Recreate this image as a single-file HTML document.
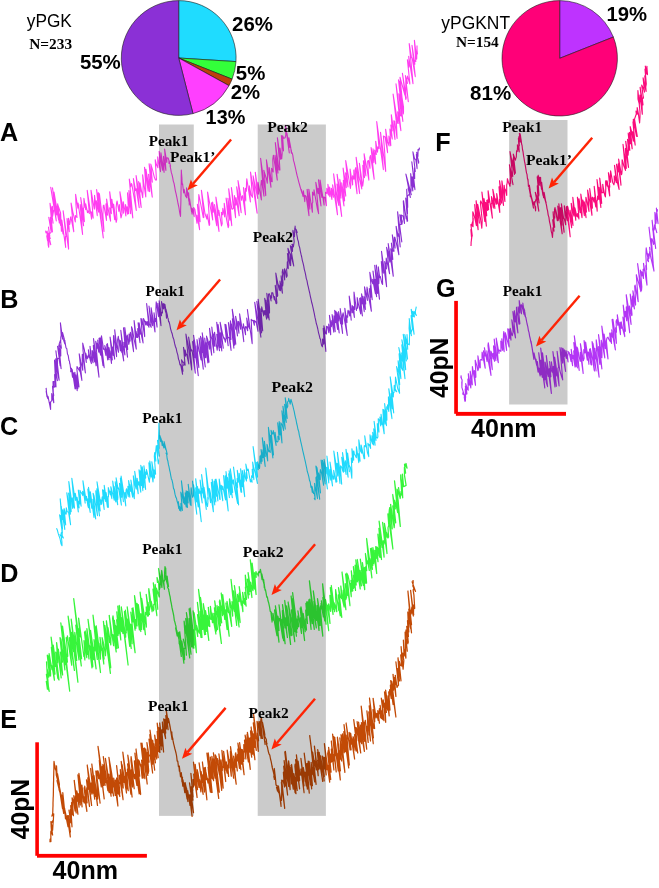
<!DOCTYPE html>
<html lang="en"><head><meta charset="utf-8"><title>Force-extension traces of yPGK and yPGKNT</title>
<style>
html,body{margin:0;padding:0;background:#fff;}
body{width:659px;height:888px;overflow:hidden;font-family:"Liberation Sans",sans-serif;}
svg{display:block;}
text{white-space:pre;}
</style></head><body>
<svg width="659" height="888" viewBox="0 0 659 888">
<rect x="0" y="0" width="659" height="888" fill="#ffffff"/>
<path d="M178.70,58.00 L178.70,0.60 A57.40,57.40 0 0 1 235.99,61.60 Z" fill="#1FDCFF" stroke="#1a1a1a" stroke-width="0.6" stroke-linejoin="round"/>
<path d="M178.70,58.00 L235.99,61.60 A57.40,57.40 0 0 1 232.07,79.13 Z" fill="#33FF3A" stroke="#1a1a1a" stroke-width="0.6" stroke-linejoin="round"/>
<path d="M178.70,58.00 L232.07,79.13 A57.40,57.40 0 0 1 229.00,85.65 Z" fill="#BE3F0C" stroke="#1a1a1a" stroke-width="0.6" stroke-linejoin="round"/>
<path d="M178.70,58.00 L229.00,85.65 A57.40,57.40 0 0 1 192.97,113.60 Z" fill="#FF3FFF" stroke="#1a1a1a" stroke-width="0.6" stroke-linejoin="round"/>
<path d="M178.70,58.00 L192.97,113.60 A57.40,57.40 0 1 1 178.70,0.60 Z" fill="#8B30D6" stroke="#1a1a1a" stroke-width="0.6" stroke-linejoin="round"/>
<path d="M559.70,58.30 L559.70,0.60 A57.70,57.70 0 0 1 613.35,37.06 Z" fill="#BE33FF" stroke="#1a1a1a" stroke-width="0.6" stroke-linejoin="round"/>
<path d="M559.70,58.30 L613.35,37.06 A57.70,57.70 0 1 1 559.70,0.60 Z" fill="#FF0078" stroke="#1a1a1a" stroke-width="0.6" stroke-linejoin="round"/>
<polyline points="45.6,230.7 46.0,233.0 47.2,231.2 47.1,238.0 46.7,235.7 47.6,240.8 47.6,234.4 48.2,245.3 48.1,243.1 48.4,245.9 48.7,247.3 48.8,244.5 48.9,245.0 48.8,236.1 50.8,244.8 47.9,233.1 50.3,238.4 49.2,237.9 49.8,236.1 48.5,227.1 49.3,234.1 51.2,232.2 48.8,217.4 51.0,227.7 50.4,225.5 51.9,225.3 50.5,217.3 50.5,222.8 52.4,231.9 50.0,203.2 53.1,223.1 50.6,205.6 53.2,213.1 52.4,206.4 52.6,216.5 53.6,210.7 54.4,209.9 50.7,187.2 56.3,221.0 52.5,187.8 53.2,192.8 56.6,214.9 54.0,192.1 58.7,220.1 55.0,200.7 58.7,216.6 57.5,206.9 57.7,203.8 59.3,222.9 58.3,212.9 60.6,225.5 57.6,204.3 60.6,213.0 61.4,231.3 61.9,228.3 60.1,213.9 63.0,233.9 61.8,220.1 65.7,247.4 65.3,242.5 65.5,236.2 66.0,236.4 63.1,210.7 68.6,249.1 68.2,238.4 67.0,218.5 69.3,231.8 68.4,218.2 69.7,224.4 70.1,222.3 70.5,217.5 70.9,216.8 73.8,231.8 71.1,203.1 72.9,212.3 75.3,221.9 75.4,215.6 77.0,217.5 76.0,205.0 75.6,194.3 77.9,208.1 78.1,203.0 82.6,234.5 80.2,204.6 83.6,225.8 80.7,197.5 84.4,221.7 83.4,208.1 84.0,207.6 83.9,198.4 85.7,209.7 85.7,203.9 87.5,212.6 87.9,210.8 89.4,213.6 87.2,190.3 91.6,219.1 91.7,211.7 93.2,218.2 91.0,190.2 94.3,209.2 94.6,208.2 94.5,195.4 97.3,215.7 96.3,200.9 98.7,212.1 96.6,189.5 103.3,237.9 98.2,192.7 99.4,193.9 104.0,231.5 102.9,214.8 103.3,205.7 103.9,205.2 106.5,220.4 106.0,203.9 107.5,215.2 106.6,199.1 109.3,215.9 110.6,221.2 109.7,207.9 111.4,213.6 109.7,191.9 112.0,207.8 111.8,199.2 114.7,219.7 113.6,204.1 116.2,222.3 116.9,218.9 116.1,207.9 116.6,203.0 117.1,201.0 118.9,211.5 119.3,204.6 121.0,217.9 122.0,213.9 119.9,191.9 121.8,202.4 123.4,213.2 123.2,201.7 125.9,216.0 125.5,204.6 127.6,214.2 127.1,206.7 128.7,213.8 127.5,192.9 130.6,213.7 128.9,190.6 132.8,217.9 129.3,179.1 130.7,186.8 131.4,183.5 131.9,184.6 136.3,210.5 133.4,178.6 135.6,190.6 136.2,188.7 139.2,207.6 136.1,175.6 141.2,207.4 138.6,181.5 140.3,192.2 140.0,182.8 142.7,197.6 143.0,191.3 143.2,184.9 142.6,174.8 145.8,197.0 145.6,182.8 144.5,167.2 148.2,191.1 145.9,169.2 149.6,191.6 148.6,174.4 152.3,197.2 149.1,163.9 152.3,182.1 150.8,164.1 152.4,169.4 154.3,177.1 155.5,180.0 156.5,180.0 155.2,159.7 156.4,164.6 157.9,167.7 157.7,156.8 160.5,171.6 159.1,151.2 162.5,170.3 160.9,152.9 164.1,172.4 163.5,156.2 165.9,170.5 164.6,149.0 166.8,162.4 166.9,157.9 168.1,158.0 168.9,160.4 169.0,163.4 169.0,160.5 170.6,166.1 170.0,165.7 170.7,168.8 171.3,172.4 172.0,174.6 172.7,177.6 173.3,181.1 174.0,183.2 174.7,186.9 175.3,190.6 176.0,193.4 176.7,196.7 177.3,199.7 178.0,203.5 178.5,205.6 179.0,208.0 179.5,211.5 180.0,214.2 180.5,216.4 180.6,213.8 180.6,211.0 180.7,207.1 180.8,204.4 180.9,201.0 180.9,197.6 181.0,195.4 181.0,191.7 181.1,189.4 181.1,186.4 181.2,182.4 181.2,179.1 181.2,176.0 181.3,173.0 181.3,170.0 181.4,171.2 181.5,173.2 181.7,175.2 181.8,176.8 181.9,177.9 182.0,179.8 181.9,179.9 182.3,184.5 182.7,184.0 182.7,184.9 183.7,193.0 184.1,189.3 185.5,195.9 186.8,197.8 186.5,187.8 187.3,195.1 186.9,188.9 188.1,195.2 188.9,201.4 188.6,192.8 189.2,200.9 189.2,204.9 189.5,198.7 191.6,211.9 191.7,208.6 190.9,207.5 191.5,209.5 192.1,214.2 192.4,208.5 194.3,216.7 193.7,207.5 194.9,209.3 197.0,223.3 197.0,215.0 199.6,229.6 197.4,204.3 200.1,221.6 198.7,203.0 198.8,194.5 201.1,206.0 203.3,217.6 203.9,217.3 201.4,190.2 205.0,213.8 206.9,219.1 207.1,214.1 209.2,225.4 209.7,224.3 209.1,215.0 207.6,192.1 210.7,209.0 212.7,219.9 211.5,202.9 213.1,212.3 212.6,202.0 216.7,225.7 214.5,204.5 219.0,231.4 215.9,197.1 218.9,215.5 218.8,210.2 221.5,225.9 222.2,223.7 221.4,212.4 222.6,214.8 222.8,208.4 224.7,216.9 224.2,203.2 226.6,219.6 228.2,227.6 228.8,225.5 226.1,198.1 229.9,220.3 227.9,198.2 231.8,225.7 228.7,188.9 231.8,208.9 232.4,209.2 233.4,208.2 231.4,187.6 235.6,217.7 234.4,195.5 236.0,205.1 236.0,197.6 239.2,215.8 236.7,186.9 237.9,193.3 241.2,212.6 238.0,180.5 241.6,200.3 241.9,196.7 242.6,195.7 245.5,214.8 243.5,187.5 245.8,200.9 245.4,188.2 246.4,191.2 246.5,183.1 246.8,178.8 250.4,202.0 249.3,185.8 251.2,195.3 252.5,197.3 250.5,172.1 253.0,186.1 257.1,213.1 253.1,175.8 255.7,188.4 257.7,198.5 255.3,172.4 258.4,194.1 258.0,182.4 261.4,200.0 261.0,190.7 260.9,185.3 261.4,180.4 264.0,196.1 260.6,158.3 265.8,195.7 264.8,179.0 263.8,170.4 266.4,178.7 267.3,183.3 267.5,174.5 266.4,159.8 271.0,187.3 269.2,167.6 271.4,181.4 272.2,181.8 271.6,168.3 273.2,172.0 272.8,159.4 273.4,155.2 277.3,180.2 275.0,155.3 278.0,173.2 275.3,142.5 279.0,169.9 279.9,169.9 279.3,159.5 277.4,137.9 280.6,159.3 280.0,148.0 281.7,159.0 282.2,153.3 281.9,144.1 281.4,135.5 283.5,150.9 282.6,135.8 283.6,138.3 284.0,138.2 285.1,137.8 285.8,134.8 285.5,125.4 289.3,153.0 286.9,133.0 288.1,140.1 289.9,147.5 288.9,137.9 290.7,147.4 291.4,153.2 291.2,149.7 291.6,152.4 292.0,152.7 292.8,155.2 293.5,160.4 294.2,162.7 295.0,166.2 295.8,169.7 296.5,173.0 297.2,175.9 298.0,178.9 298.8,182.1 299.5,184.5 300.2,187.1 301.0,189.8 302.1,193.4 301.4,189.5 302.8,195.5 303.0,196.4 303.4,190.8 304.8,201.6 305.0,195.4 305.8,196.0 306.1,196.2 309.0,215.6 307.8,199.1 307.1,189.4 309.9,209.2 308.8,189.2 312.4,212.3 312.2,203.5 312.8,202.1 312.5,192.1 313.9,195.3 314.0,189.8 317.4,208.8 318.6,213.6 315.8,182.3 318.1,193.4 318.2,188.4 321.0,206.0 318.5,179.9 321.9,197.4 320.1,180.1 324.1,205.2 323.8,197.0 325.0,197.6 326.5,205.8 325.6,192.2 326.8,193.4 326.8,188.3 328.4,195.1 327.9,184.3 329.9,196.8 329.6,187.1 331.9,199.5 331.4,188.2 333.4,197.3 332.6,184.8 335.0,198.5 337.5,214.8 333.6,173.8 337.5,200.0 338.8,205.4 337.0,184.0 341.7,216.4 337.1,174.4 341.0,198.2 339.8,179.3 344.0,205.9 341.7,182.8 344.6,201.0 343.3,180.3 345.8,196.2 343.1,168.1 346.3,187.8 345.6,172.8 348.0,186.9 345.7,160.6 347.4,170.1 350.4,188.5 350.8,185.2 350.1,169.0 352.6,185.0 352.6,175.7 353.9,179.3 353.8,170.1 357.1,193.8 355.1,169.5 355.8,167.6 359.6,193.4 356.1,157.2 359.3,178.2 361.8,189.0 359.4,163.2 362.7,186.1 363.4,180.8 362.8,165.4 364.5,177.6 363.4,160.7 365.9,176.0 364.1,153.9 366.4,166.0 368.9,180.2 367.6,161.2 368.5,160.5 370.0,168.4 369.8,157.4 370.5,155.5 374.2,179.3 371.1,147.6 373.9,162.7 373.0,148.8 375.7,164.0 374.7,150.1 376.3,154.5 375.7,141.4 377.5,152.2 377.9,146.9 379.1,148.6 376.7,121.5 383.4,169.7 382.0,151.4 380.5,132.3 385.7,171.4 384.6,150.9 383.4,136.0 385.1,136.9 387.6,152.7 385.6,129.2 387.6,141.9 389.1,145.9 388.9,136.0 390.8,145.8 389.9,129.0 392.3,139.0 390.8,125.0 392.2,130.9 391.3,114.7 395.0,139.5 393.8,120.7 394.7,121.4 397.1,138.5 396.4,122.4 393.1,94.1 397.7,123.2 398.2,123.5 397.7,111.7 400.9,130.6 396.0,83.8 400.3,115.7 401.5,116.1 398.8,93.9 402.9,121.5 398.5,79.8 403.4,114.0 399.5,81.3 403.5,107.0 403.5,112.5 400.0,77.2 404.9,95.1 403.9,85.6 406.3,98.3 402.4,73.2 405.8,99.4 405.8,79.0 408.3,101.7 405.4,75.6 407.4,83.4 406.9,80.0 407.5,76.1 408.6,79.9 409.9,84.0 407.4,59.7 408.9,67.1 409.3,64.7 408.7,56.3 413.0,83.6 412.4,76.4 409.2,43.6 411.3,56.4 412.3,58.9 415.3,76.7 412.0,45.3 414.9,64.3 413.9,60.0 415.8,61.7 414.4,40.4 416.7,59.1 416.9,48.9 417.4,53.9 417.0,50.6 417.0,45.6" fill="none" stroke="#FF3DF0" stroke-width="1.1" stroke-linejoin="round"/>
<polyline points="46.1,387.9 47.0,397.0 46.2,391.3 47.8,398.6 48.5,398.4 48.0,396.3 49.4,403.5 49.4,402.5 49.3,402.8 49.8,405.1 50.6,409.4 50.6,402.2 50.1,402.7 50.0,402.8 50.3,402.4 51.8,400.5 51.7,393.5 52.9,399.9 52.5,398.0 53.8,402.8 52.5,386.2 53.7,395.3 53.4,396.5 53.0,381.5 54.6,382.1 53.7,381.6 54.0,387.3 55.2,386.5 54.6,374.6 56.0,386.9 55.3,371.9 57.4,380.6 54.5,360.0 55.4,378.8 56.3,370.6 55.7,358.9 57.0,370.3 59.2,380.3 55.9,350.9 57.5,364.5 57.5,358.3 59.1,358.8 60.2,365.8 57.6,346.4 59.2,354.8 61.1,368.6 58.8,345.0 60.8,356.0 60.7,347.8 59.2,343.9 60.4,340.3 61.4,348.3 60.7,342.4 60.8,337.4 61.2,335.3 60.4,322.7 62.6,339.1 62.5,332.5 64.4,339.5 63.7,338.7 64.8,343.9 63.5,339.8 65.4,344.2 64.7,340.2 66.0,347.9 66.8,348.7 67.5,354.1 68.2,355.4 69.0,360.6 69.4,360.9 69.8,363.8 70.1,364.5 70.6,368.7 70.8,368.0 70.7,371.8 71.5,368.2 72.2,375.1 72.6,377.3 72.2,369.6 75.1,389.0 73.6,372.8 75.7,388.8 74.8,372.4 77.2,390.8 75.8,375.0 77.9,388.7 77.0,373.7 77.7,384.3 79.0,386.9 76.9,369.5 77.0,366.6 80.1,371.8 79.5,367.3 79.4,367.4 81.9,380.4 79.2,353.8 80.7,361.4 82.8,370.3 82.2,358.8 82.3,354.2 85.4,372.9 83.0,350.1 82.7,343.1 84.4,350.0 86.3,362.4 85.7,353.1 87.3,358.8 87.6,356.9 88.5,354.8 89.0,357.8 88.4,349.9 90.3,360.3 91.4,363.6 90.0,346.4 91.6,358.0 93.1,362.8 92.1,350.5 92.5,351.1 94.7,361.9 93.3,345.6 96.1,365.8 93.5,338.5 99.0,377.1 96.9,355.3 95.7,341.2 96.9,348.5 96.9,343.1 98.8,352.2 97.7,340.0 99.5,351.3 100.8,355.3 99.0,338.2 103.0,365.6 99.9,337.7 104.2,367.7 101.0,339.3 101.5,335.9 103.5,349.3 104.5,349.0 105.9,355.4 104.8,345.6 106.6,351.7 107.7,360.0 106.7,344.4 109.0,359.6 107.4,343.5 109.6,357.4 109.0,347.5 111.5,363.4 110.9,350.8 112.3,359.9 110.1,337.1 113.1,355.4 112.6,347.0 114.7,359.2 113.5,346.4 113.5,336.3 113.7,335.5 116.6,356.6 116.4,350.4 114.7,329.9 116.5,344.3 118.5,352.3 117.6,339.9 118.3,336.3 120.4,351.0 119.1,339.5 121.9,352.7 120.3,340.6 123.7,360.9 120.8,330.2 122.8,345.4 124.9,354.9 123.8,342.4 125.2,347.1 123.5,327.9 127.5,357.1 124.8,327.6 127.7,349.5 126.8,337.9 127.3,335.0 128.8,344.5 129.2,342.3 129.0,334.1 130.1,341.1 129.9,335.0 130.4,332.3 130.7,333.7 133.6,351.7 131.5,326.7 132.4,329.2 133.9,338.5 136.3,349.2 135.6,340.4 134.1,320.6 136.3,337.4 136.0,331.4 137.5,337.5 137.9,336.2 137.7,328.6 140.0,342.6 138.1,322.9 140.1,334.1 139.1,322.8 141.8,337.2 143.1,343.0 140.9,318.6 142.4,324.4 141.9,318.7 144.7,336.6 144.4,329.1 143.5,318.5 145.2,322.3 145.7,324.9 145.8,321.3 147.2,325.3 147.3,321.5 147.8,324.6 149.0,327.2 146.6,303.5 149.4,323.7 150.2,325.5 151.2,327.3 149.0,306.0 151.2,320.2 152.6,325.6 151.1,307.7 152.6,316.7 155.0,331.9 154.0,312.7 155.4,321.5 155.7,318.6 157.1,327.1 155.9,309.2 156.2,301.9 158.5,316.7 157.8,303.4 161.0,325.6 159.1,300.7 161.5,315.8 161.5,312.4 162.5,312.9 161.5,301.6 163.4,308.9 163.1,303.9 164.0,307.9 163.9,303.5 165.6,312.1 164.9,304.3 165.8,309.7 166.5,318.1 165.9,309.2 167.3,314.9 167.7,317.7 168.1,318.3 168.6,321.8 169.0,321.5 169.8,324.7 170.6,328.8 171.4,331.7 172.2,333.8 173.0,337.5 173.8,339.4 174.6,343.4 175.4,346.5 176.2,348.5 177.0,352.3 177.8,354.8 178.5,359.2 179.2,360.8 180.0,365.0 180.5,364.4 180.9,366.0 182.6,374.3 181.7,365.7 182.6,369.6 183.0,371.1 181.5,359.8 182.9,362.3 184.0,362.3 183.7,365.7 184.4,362.0 185.1,365.1 183.5,347.3 185.5,356.2 185.1,350.0 186.3,354.8 186.7,354.4 188.8,364.0 185.9,334.0 188.2,345.4 191.7,369.9 191.4,362.1 188.6,337.0 191.1,350.9 191.6,349.8 192.1,350.4 195.3,373.1 193.5,350.7 192.6,341.5 195.1,357.6 193.6,340.1 198.3,375.6 193.6,335.4 197.7,360.9 198.9,367.7 196.9,345.9 197.7,351.4 197.0,339.6 199.0,350.5 201.1,360.0 199.1,338.1 203.3,369.1 201.0,347.1 202.0,352.6 200.5,336.2 205.3,367.0 202.1,337.9 205.0,357.8 202.2,332.8 205.9,357.7 204.7,338.0 207.9,363.0 206.1,342.7 209.0,362.3 206.5,336.1 207.6,339.2 209.4,349.2 209.3,342.7 209.4,341.0 211.7,355.1 209.5,328.3 210.5,334.5 211.9,339.3 213.9,352.8 211.8,327.0 214.0,345.8 215.1,346.2 213.7,334.7 214.6,332.2 214.9,334.8 217.2,350.3 217.7,344.7 216.8,334.3 219.5,350.8 216.7,322.2 220.3,347.6 218.1,324.6 221.8,351.0 220.3,332.7 221.1,334.0 223.3,348.3 220.1,322.2 222.8,335.0 224.0,338.9 224.3,337.9 225.4,342.1 225.7,338.9 226.2,338.4 224.9,324.2 228.2,345.8 225.9,324.5 227.9,337.6 229.1,337.6 231.1,350.4 228.4,322.5 231.0,339.4 230.4,331.3 230.3,324.5 230.5,320.9 233.9,348.2 231.5,324.1 234.7,345.1 232.4,318.9 235.8,344.3 232.2,309.2 235.8,329.3 236.3,327.8 237.5,336.0 235.6,316.4 237.5,324.9 239.0,333.3 238.1,321.4 238.8,321.7 240.0,326.5 240.7,329.3 239.6,313.8 241.8,326.8 243.8,341.7 242.4,327.1 243.4,327.9 243.3,323.7 245.6,334.8 245.2,328.7 245.6,326.6 246.1,326.6 247.7,330.8 246.7,318.0 247.9,323.9 248.4,326.6 249.8,329.1 247.4,309.6 252.2,343.7 251.7,329.8 251.6,329.0 251.2,319.3 251.7,320.6 252.2,320.4 252.9,320.2 254.4,325.3 254.1,320.3 255.2,321.8 255.5,321.2 256.3,322.8 258.0,331.3 254.7,302.3 258.0,320.0 260.9,337.1 256.8,301.3 259.1,313.6 261.6,332.9 258.1,299.2 262.7,331.0 260.9,308.9 261.6,311.4 261.7,306.9 263.7,315.9 263.9,310.6 265.0,314.5 265.0,310.6 266.6,319.2 264.7,298.2 267.8,317.9 266.0,300.1 269.2,320.0 266.8,293.2 269.5,312.9 269.5,307.7 268.4,294.2 269.4,293.7 271.1,301.0 270.7,295.7 271.7,297.9 271.7,292.9 272.2,292.8 272.8,292.9 274.4,300.0 274.6,296.5 276.1,303.7 276.9,303.1 275.2,285.2 277.2,296.5 277.7,295.4 275.8,273.1 277.5,281.8 279.3,290.3 278.9,285.1 280.5,290.8 280.0,281.0 282.4,293.1 281.1,275.8 282.7,286.0 283.0,282.7 282.2,272.0 282.8,269.4 284.7,280.0 284.5,268.8 285.3,270.7 286.5,277.3 287.2,275.8 286.6,269.5 287.2,267.7 287.3,261.9 288.3,268.7 287.7,254.9 287.4,253.6 290.2,265.7 287.9,248.2 290.6,255.3 290.7,265.5 290.4,253.7 293.8,266.0 290.3,245.7 291.6,247.6 291.4,246.3 292.5,251.4 292.6,244.2 291.9,244.5 293.4,246.9 294.2,241.6 292.8,231.3 294.1,240.3 292.9,230.4 294.5,236.8 294.8,227.9 295.2,227.0 295.1,226.1 295.2,228.3 297.2,232.5 296.0,229.3 296.2,232.4 296.5,232.4 296.8,234.8 297.0,235.7 297.7,239.6 298.3,241.2 299.0,245.6 299.7,247.6 300.3,251.1 301.0,254.2 301.7,257.0 302.3,260.3 303.0,262.8 303.7,265.8 304.3,269.3 305.0,271.9 305.7,275.2 306.3,278.6 307.0,280.6 307.7,284.6 308.3,286.9 309.0,290.1 309.7,293.0 310.3,296.1 311.0,299.1 311.7,302.5 312.3,304.5 313.0,307.7 313.7,310.9 314.3,313.7 315.0,317.4 315.7,320.3 316.3,323.5 317.0,325.6 317.8,329.0 318.5,332.6 319.2,335.1 320.0,338.6 320.5,339.2 320.9,342.1 321.6,345.4 322.4,346.8 322.5,345.3 322.9,343.2 322.7,343.7 322.5,339.0 323.8,344.1 323.7,336.0 324.2,341.9 323.2,328.4 325.9,351.5 323.9,325.9 325.8,333.8 326.5,334.0 326.5,326.2 327.4,326.7 328.8,332.7 328.7,324.0 329.1,325.9 330.7,334.8 330.5,327.0 329.4,315.3 331.4,326.6 331.7,321.8 331.9,320.2 333.8,332.1 332.1,314.6 333.9,324.1 335.2,331.6 334.0,315.9 335.5,322.8 334.7,310.4 337.6,329.4 335.9,311.2 339.2,333.0 337.1,312.5 338.7,321.0 338.6,311.5 340.6,323.7 340.3,318.0 342.6,333.4 340.2,308.5 342.6,324.1 342.5,314.9 342.6,314.8 343.1,312.9 344.1,317.9 347.3,335.5 345.7,321.8 344.8,308.2 347.0,322.6 346.8,315.7 347.7,317.2 347.8,311.5 348.1,310.2 349.7,315.9 349.6,311.8 350.2,310.3 351.2,320.1 349.2,296.1 352.0,313.0 352.6,312.1 352.3,305.6 354.4,317.5 353.7,306.5 354.8,309.4 354.1,298.8 354.0,292.0 356.5,310.4 356.5,308.0 357.5,308.3 357.2,297.6 358.5,304.6 359.5,308.7 360.7,314.0 359.7,298.4 362.4,315.9 360.5,297.9 362.0,303.9 361.6,293.8 364.3,311.7 362.9,296.2 365.4,309.5 364.5,296.9 365.7,303.9 364.5,286.8 365.9,293.3 367.4,300.4 366.9,290.4 367.0,287.1 369.0,298.8 371.4,311.3 369.3,288.5 370.9,297.1 370.3,285.8 372.2,299.6 369.8,272.3 371.6,280.9 372.8,283.7 372.7,279.4 375.4,293.7 373.0,271.1 376.6,296.6 375.2,279.3 377.5,293.4 374.7,265.3 379.5,299.3 376.3,265.0 378.9,283.6 379.0,276.0 378.3,266.7 379.7,277.6 380.3,276.4 381.9,283.3 382.6,284.4 382.5,277.3 381.3,261.5 383.4,273.2 381.5,251.3 386.6,286.6 385.7,273.6 384.7,261.6 386.4,268.9 386.2,261.4 386.2,258.0 389.6,273.8 386.6,247.3 388.0,252.3 389.9,262.2 388.2,243.5 393.3,276.3 390.7,248.8 392.8,259.5 391.4,243.1 392.9,251.2 394.0,251.3 392.3,234.8 395.1,248.1 394.4,237.6 394.8,237.1 396.2,242.3 398.9,254.8 396.1,226.4 398.2,236.3 398.7,233.6 400.2,246.9 397.6,211.9 401.8,241.9 399.6,224.7 401.2,224.4 399.8,214.7 402.3,221.3 402.0,224.2 401.2,215.1 403.2,216.2 403.0,216.0 404.5,223.5 403.3,201.1 403.5,200.7 406.2,218.9 406.6,216.4 407.1,221.4 407.6,220.9 405.7,198.1 407.5,213.8 406.7,189.4 407.7,207.2 407.5,196.1 409.6,193.9 408.1,188.0 410.4,197.5 405.9,174.1 411.3,194.7 409.9,189.9 411.0,191.3 411.1,189.7 410.7,173.6 412.8,191.0 412.1,176.9 413.4,187.1 412.8,177.4 415.0,189.7 411.8,161.8 413.7,175.8 414.5,173.8 414.7,178.4 414.5,167.7 415.3,171.5 412.9,151.8 414.6,159.0 415.8,159.3 417.1,168.7 416.4,154.2 417.6,157.7 418.7,161.7 418.6,163.2 416.7,152.4 417.9,156.5 418.1,149.3 419.1,150.0 419.5,147.6" fill="none" stroke="#8A2FD2" stroke-width="1.1" stroke-linejoin="round"/>
<polyline points="56.5,528.2 57.3,529.9 58.2,533.4 59.0,535.9 60.0,538.5 61.0,543.7 62.0,545.8 62.0,544.8 61.9,542.0 61.9,541.6 61.3,536.8 60.0,534.6 63.4,538.0 61.0,533.1 61.7,532.5 62.1,536.6 62.2,526.6 62.2,534.7 61.5,524.0 62.4,532.9 59.6,514.8 62.3,526.1 60.6,515.6 62.5,528.9 60.2,498.9 62.3,519.5 61.2,506.4 64.8,529.4 62.9,509.9 65.7,525.0 64.1,508.6 65.4,513.7 66.2,514.1 66.3,507.8 67.1,511.7 68.5,512.0 70.6,524.8 66.8,492.7 70.4,514.1 68.6,493.1 71.2,511.8 70.8,504.2 68.8,481.6 72.7,508.5 72.3,497.8 73.6,506.8 74.5,508.1 71.8,478.2 74.6,496.4 75.4,500.5 75.2,493.2 76.9,501.5 78.3,511.9 77.0,497.2 79.1,507.9 78.5,501.4 79.7,504.0 78.3,490.0 81.1,506.1 79.9,490.4 80.9,492.6 81.4,492.8 82.8,495.6 82.6,491.2 83.7,493.5 85.2,503.2 82.9,480.7 84.8,492.3 86.1,500.4 86.5,496.2 87.9,505.9 88.5,507.8 88.0,498.9 90.2,512.4 87.8,489.0 89.8,502.3 88.5,487.3 91.8,508.3 90.3,491.7 94.0,517.4 94.0,512.2 92.9,499.3 95.7,519.0 93.1,493.3 94.0,495.6 97.5,515.7 97.2,512.5 96.5,501.6 95.8,490.9 99.5,516.0 96.8,488.8 100.2,510.9 97.0,481.8 100.9,504.8 100.5,499.7 101.6,504.1 101.7,500.7 102.2,496.7 104.2,509.5 102.5,489.7 104.2,498.8 103.7,490.1 105.4,501.5 104.2,485.3 107.5,507.3 106.1,492.5 108.4,507.4 108.0,496.2 108.5,496.9 108.3,490.8 108.3,487.6 110.2,494.7 110.1,491.1 111.9,498.7 110.8,486.7 112.4,492.6 112.6,493.5 114.3,500.3 112.7,481.0 115.8,501.9 114.1,486.3 117.7,504.8 115.2,481.9 117.7,499.7 117.9,497.2 116.1,477.8 117.9,488.0 118.9,489.6 118.5,488.0 121.4,505.2 119.5,483.4 121.7,497.3 121.5,495.9 120.4,478.0 123.4,501.8 121.1,476.0 123.9,494.0 125.8,506.0 124.7,493.7 125.0,492.3 126.4,498.2 126.1,490.2 126.6,488.7 128.3,496.7 127.9,486.2 129.8,497.1 128.6,480.6 130.7,491.4 130.0,484.6 132.7,497.2 130.9,480.1 132.7,490.5 134.3,498.7 134.3,494.3 134.5,492.4 133.3,475.8 135.1,485.2 136.2,489.2 134.7,471.3 138.2,493.8 137.4,482.6 137.1,478.4 138.3,485.1 138.9,481.7 140.8,492.1 139.0,469.7 141.3,485.4 140.1,470.7 142.9,490.7 140.8,465.3 143.8,487.7 142.9,475.0 142.2,466.9 145.6,489.4 143.9,465.9 145.7,478.1 145.4,472.1 146.4,474.4 146.4,469.5 147.3,472.7 149.4,482.3 149.5,479.3 149.9,478.0 148.9,462.8 151.1,477.2 149.8,461.0 153.0,481.9 153.3,477.2 151.8,461.7 154.6,478.2 154.1,469.8 155.6,474.3 154.3,456.2 154.7,452.5 155.9,461.2 155.3,455.5 156.3,445.5 158.3,463.9 158.6,460.9 157.7,458.0 157.5,445.3 158.0,447.9 159.2,456.1 157.5,440.4 159.0,448.7 158.7,438.0 158.5,440.4 158.5,437.7 158.6,435.5 158.7,433.1 158.8,429.3 158.8,426.5 158.9,423.0 159.0,426.0 159.1,428.5 159.2,431.0 159.3,434.8 159.4,436.4 160.7,441.7 159.7,435.3 161.2,439.2 161.5,440.4 162.2,445.6 162.2,440.9 163.9,448.0 164.2,443.0 164.6,445.8 165.8,449.7 164.1,441.6 167.3,454.3 166.0,453.2 166.6,453.9 167.2,459.0 167.8,460.7 168.4,464.4 169.0,466.6 169.6,470.0 170.2,472.3 170.8,475.8 171.4,478.9 172.0,480.1 172.8,483.6 173.5,488.4 174.2,489.6 175.0,494.2 175.8,497.1 176.5,498.3 177.2,501.7 178.0,504.2 178.8,508.7 178.3,501.6 179.7,510.5 179.5,506.4 180.9,511.2 180.9,503.4 181.3,505.3 182.4,510.4 180.8,492.1 182.1,495.7 183.5,502.8 181.4,480.7 184.5,504.2 184.1,496.7 186.3,507.2 185.2,492.9 187.5,507.4 186.1,490.7 188.1,502.9 187.4,491.4 188.0,491.9 190.4,504.8 188.2,484.4 191.1,505.6 190.9,496.4 190.9,495.4 191.1,487.7 192.6,497.3 193.0,496.3 193.6,495.7 192.5,481.0 196.8,514.3 193.5,484.7 196.6,502.0 195.7,487.8 198.2,506.9 195.7,478.9 201.3,521.7 197.5,486.5 198.4,494.0 199.0,488.7 199.7,493.4 200.2,491.0 202.2,503.0 200.1,480.0 202.1,493.0 202.3,488.4 203.8,497.9 201.6,474.6 206.3,509.4 204.0,487.3 206.7,504.0 207.5,506.5 207.9,502.7 207.8,497.3 208.3,499.1 205.7,468.0 207.9,485.6 210.6,502.6 209.4,488.6 210.3,492.6 213.4,511.8 212.8,500.6 211.3,482.4 211.7,483.8 214.8,504.9 212.1,479.2 213.7,487.8 215.8,501.9 214.1,481.0 216.6,496.3 215.1,479.5 217.9,500.9 216.0,479.1 217.9,488.6 219.8,499.4 220.1,499.4 219.6,488.1 219.2,479.0 220.0,484.3 222.8,500.8 221.3,485.3 222.4,489.4 222.8,486.1 224.0,492.1 225.1,497.8 225.6,499.9 223.6,475.6 228.2,511.0 225.4,480.4 225.2,475.7 227.1,488.3 226.0,471.5 229.4,497.8 227.6,477.5 230.7,494.8 228.7,473.9 232.3,497.6 229.1,470.7 232.7,492.4 230.3,468.8 232.0,479.8 233.2,484.0 233.3,479.7 234.8,489.6 237.6,503.5 233.5,467.0 238.6,504.9 236.6,482.8 237.5,487.6 237.1,478.6 238.1,482.3 237.3,470.3 241.0,492.2 239.2,473.3 241.7,492.2 240.6,480.1 242.2,486.7 240.6,468.9 244.7,496.6 242.3,470.5 243.9,481.9 244.1,479.9 244.2,469.8 245.4,478.0 246.5,481.0 246.2,472.5 247.3,478.3 245.8,464.0 247.3,470.5 248.2,469.1 250.4,482.0 250.2,479.0 251.4,481.5 252.1,482.2 251.5,475.8 252.6,477.4 252.2,469.2 253.9,479.7 252.6,462.0 253.6,466.9 255.2,473.0 257.4,483.4 253.1,446.6 257.5,477.1 256.6,462.4 258.2,469.6 257.6,461.9 259.5,468.5 259.7,466.7 259.7,463.6 260.0,456.1 261.2,463.6 260.9,455.1 262.2,461.3 261.1,449.6 262.9,457.8 262.9,449.7 265.2,466.4 262.3,437.9 265.3,456.5 264.4,441.4 265.5,449.2 267.7,461.0 267.0,444.4 267.5,445.9 268.8,451.8 269.1,450.7 270.3,452.3 269.3,442.6 268.4,427.3 272.9,457.9 270.5,435.2 273.5,454.9 271.0,430.3 272.6,434.1 273.1,433.8 273.3,430.5 276.1,445.5 275.0,432.2 276.3,441.1 277.4,442.0 278.1,441.1 277.9,436.3 279.3,439.6 277.7,422.9 280.0,434.9 279.2,421.5 282.0,443.0 280.8,422.7 281.7,424.2 282.4,425.5 283.6,430.4 281.9,410.8 285.3,429.2 282.9,406.2 284.6,416.6 286.3,422.5 284.6,404.3 287.2,418.4 285.2,397.7 287.0,407.9 287.8,406.3 287.6,401.9 288.4,401.2 288.7,398.4 290.2,404.2 290.7,400.8 290.5,401.2 291.0,399.3 292.0,402.9 293.0,406.5 293.6,409.2 294.2,411.4 294.8,414.6 295.4,417.3 296.0,419.7 296.7,423.5 297.3,425.8 298.0,429.5 298.7,431.4 299.3,435.2 300.0,437.8 300.7,441.3 301.3,443.8 302.0,447.0 302.7,450.3 303.3,452.8 304.0,455.8 304.7,459.0 305.3,461.5 306.0,464.9 306.7,468.2 307.3,471.5 308.0,473.6 308.8,476.7 309.5,480.3 310.2,482.0 311.0,487.5 311.4,486.0 312.3,492.4 312.1,490.7 312.0,486.5 313.5,492.5 313.4,493.4 314.2,493.3 315.1,497.6 314.3,498.4 315.1,499.7 314.6,483.3 317.5,498.7 315.9,477.5 316.5,485.8 316.3,476.9 319.7,499.3 315.9,466.1 317.0,467.8 320.5,492.9 318.5,473.0 320.3,479.6 320.1,472.6 320.4,469.6 321.7,473.9 323.6,485.3 321.1,460.0 325.2,483.9 322.4,460.2 324.1,465.1 327.4,489.0 324.1,459.3 327.0,474.0 326.7,467.4 328.8,483.0 328.2,472.5 326.9,456.0 329.0,472.3 330.3,480.2 329.9,469.6 332.5,485.9 330.0,462.0 331.9,473.5 333.2,479.3 333.1,476.3 334.1,479.1 333.7,470.3 335.4,478.1 335.9,482.1 336.9,481.8 333.8,451.0 336.0,464.2 337.8,476.1 337.0,463.4 337.7,464.2 340.0,483.5 337.4,452.4 341.7,484.2 340.5,468.0 340.6,465.7 341.7,467.4 342.8,471.0 343.4,472.3 341.7,457.3 344.2,471.5 342.5,452.5 346.1,474.4 345.1,466.2 345.4,460.7 348.1,477.1 347.1,465.7 346.0,449.4 349.4,471.8 347.6,453.0 349.1,464.9 350.5,467.8 351.8,478.3 351.9,471.2 351.3,458.0 351.7,458.7 352.6,462.5 351.9,448.7 353.7,460.3 353.3,452.0 353.8,450.9 354.3,453.7 355.9,456.7 356.4,457.7 356.4,452.2 356.4,446.7 358.8,462.6 358.7,453.6 360.1,461.3 359.2,451.5 358.8,439.8 360.6,451.2 361.8,453.2 361.1,445.0 362.1,449.2 364.1,458.6 364.7,458.7 364.1,447.7 364.3,445.5 365.1,446.8 365.6,445.3 364.7,435.8 367.4,452.5 368.8,456.7 367.9,443.2 368.7,445.2 369.2,444.5 370.6,448.4 370.2,441.8 370.0,434.8 371.2,440.1 372.5,443.9 371.9,435.8 373.5,445.0 372.7,432.3 375.1,445.3 373.7,428.8 376.0,440.4 374.1,421.2 376.3,437.2 377.2,438.1 377.9,436.9 377.3,423.6 378.3,428.8 379.0,432.2 378.2,418.7 379.4,420.0 380.7,426.0 379.9,417.0 381.8,424.6 381.0,414.2 384.2,433.8 383.7,425.4 382.9,409.4 385.0,424.1 383.9,409.8 386.5,425.7 384.6,403.5 386.9,420.2 386.7,406.7 387.4,409.1 387.6,404.8 388.8,411.5 388.4,396.9 392.0,418.7 388.8,388.9 392.2,408.7 391.1,393.5 393.7,412.9 390.2,376.8 393.3,397.0 393.5,392.4 394.0,392.6 394.2,385.4 395.2,390.5 396.8,391.7 395.2,389.0 395.5,377.0 397.8,388.8 399.6,393.3 399.1,386.2 396.6,366.6 398.7,372.6 399.7,384.8 398.5,366.1 398.1,360.7 400.9,378.6 399.1,353.7 401.3,367.7 402.7,370.2 398.8,347.5 401.9,361.0 401.7,352.9 405.0,378.8 401.8,344.7 405.7,369.8 405.0,360.8 401.9,339.8 406.4,361.0 403.2,334.2 407.6,359.2 404.8,334.6 407.0,343.8 407.1,336.7 407.7,349.2 407.0,334.5 407.6,343.8 409.3,344.8 409.6,333.7 409.1,328.5 409.4,320.9 411.4,335.6 409.2,318.6 410.7,333.7 412.4,328.9 411.1,315.6 414.1,334.3 411.2,309.4 413.1,316.7 412.5,311.4 414.4,317.0 413.9,311.3 416.4,315.4 415.7,314.6 415.3,311.7 416.3,306.7" fill="none" stroke="#20DAFD" stroke-width="1.1" stroke-linejoin="round"/>
<polyline points="47.5,689.6 46.3,681.4 49.2,691.4 48.3,685.7 46.4,674.3 48.6,689.4 47.8,679.1 47.4,671.1 47.6,680.6 46.5,661.8 47.5,679.1 47.1,668.9 48.8,677.0 49.5,675.1 47.3,655.1 50.6,676.0 48.2,655.9 50.7,674.7 49.1,653.6 52.0,669.6 51.8,665.6 52.7,670.2 54.4,680.1 51.4,647.4 52.4,656.3 55.0,674.2 51.1,637.1 55.1,666.3 53.2,645.1 57.8,678.2 59.0,680.0 55.7,652.2 57.7,662.7 57.4,658.4 56.6,642.6 61.2,677.8 58.3,649.2 60.2,663.1 62.6,674.9 60.5,652.1 60.6,652.5 62.5,662.2 60.0,637.6 61.0,639.4 64.9,669.8 63.3,650.0 65.4,664.6 60.8,622.8 69.7,691.2 62.5,626.2 67.4,662.2 66.8,654.2 67.8,656.3 66.8,642.8 66.2,637.7 67.2,640.1 67.4,635.9 68.7,645.1 71.7,665.1 69.4,637.7 71.4,650.1 74.4,670.4 68.1,616.2 70.9,634.3 73.6,651.5 71.8,632.3 77.9,682.1 71.2,619.1 76.7,660.4 76.1,653.8 74.7,637.4 74.8,632.3 79.0,659.8 77.1,643.4 79.2,656.2 75.8,625.1 81.3,665.9 73.7,598.7 81.6,658.7 78.2,628.7 80.4,636.8 79.5,629.6 78.6,618.2 83.9,656.4 84.0,653.3 84.9,659.9 84.7,651.6 84.0,640.6 86.8,657.7 86.4,650.3 84.5,632.0 87.5,654.4 85.2,631.0 89.0,658.9 87.1,636.3 86.9,628.6 92.0,667.8 89.8,645.8 92.9,666.7 91.2,647.1 88.0,619.3 93.6,659.7 90.5,630.4 96.1,668.8 94.0,650.8 94.0,647.2 94.8,650.9 94.0,639.7 95.4,645.4 97.3,659.4 95.7,641.8 93.0,615.2 100.5,672.5 95.4,626.9 98.0,644.2 96.2,625.9 100.5,659.2 100.4,652.4 100.0,643.2 101.0,650.2 100.0,637.3 103.8,664.0 102.6,648.2 104.1,659.0 102.1,637.7 103.5,643.2 103.7,643.7 105.5,655.6 105.8,648.9 105.6,645.3 103.4,621.3 110.4,673.3 104.9,625.5 110.8,667.7 107.6,637.9 106.4,620.9 109.6,642.5 108.0,627.9 110.1,640.9 110.8,644.8 110.9,636.2 110.7,629.6 109.2,615.4 113.6,645.6 112.6,634.6 113.6,635.3 116.2,651.9 112.6,618.4 113.0,615.9 117.0,648.4 114.3,620.4 118.4,647.8 115.8,625.6 118.2,635.5 116.6,619.8 118.6,633.6 116.8,611.9 120.8,639.9 119.7,626.4 117.8,606.2 121.4,630.9 121.8,631.7 119.2,605.3 122.9,633.5 122.1,617.3 128.1,665.0 121.3,606.8 125.7,637.2 125.6,633.2 126.3,633.0 124.4,611.5 127.0,630.0 125.4,610.2 129.7,646.3 127.4,619.2 131.2,648.5 127.2,606.8 132.2,643.7 130.6,626.3 130.7,624.1 131.3,626.2 135.1,652.6 130.8,612.1 132.7,621.9 132.8,616.0 132.0,608.3 135.1,630.1 133.0,607.9 135.9,628.3 135.6,619.6 136.8,625.4 137.1,625.9 134.5,595.7 135.7,602.8 139.4,629.9 137.0,603.4 140.8,631.5 138.3,604.6 141.7,629.3 141.3,622.2 140.9,613.6 142.0,617.5 143.8,629.6 140.1,592.1 145.4,634.6 141.7,598.5 144.7,618.3 146.3,627.1 146.3,624.4 145.5,612.4 146.5,614.7 146.2,606.8 147.7,616.1 148.4,615.9 146.2,594.3 149.4,614.5 148.0,602.4 149.4,610.3 150.1,606.2 148.8,591.3 148.8,588.7 152.1,611.7 151.1,601.2 153.4,610.8 153.9,609.5 153.7,604.4 154.6,604.5 153.0,589.1 156.9,615.7 153.3,582.9 156.4,600.8 155.2,584.5 157.8,609.3 156.4,588.1 159.2,597.0 158.6,582.0 157.4,582.3 157.0,577.5 160.1,587.0 159.3,589.7 160.4,583.7 158.5,568.5 161.9,587.4 162.0,581.7 161.4,576.1 161.0,578.1 161.7,570.5 164.4,589.1 163.8,582.0 164.3,581.0 164.9,579.2 164.5,575.6 165.0,566.6 164.6,573.0 165.7,568.0 166.0,577.7 165.1,575.8 168.0,586.5 167.1,583.0 167.1,576.1 167.7,581.0 168.5,586.5 167.5,586.9 168.7,589.5 168.9,591.5 169.2,592.1 169.5,594.3 170.1,596.7 170.7,600.8 171.3,603.5 171.9,607.2 172.5,610.0 173.1,612.6 173.7,615.5 174.3,620.2 174.9,622.1 175.5,624.7 175.9,625.9 176.9,633.9 176.6,630.3 177.2,635.9 175.6,627.8 178.2,636.6 176.7,630.1 179.1,639.8 178.7,632.4 179.2,643.6 181.4,647.5 180.2,645.2 179.0,639.6 181.3,656.4 180.5,642.9 181.3,647.1 179.7,631.9 183.9,663.1 181.8,641.0 183.6,650.6 184.6,659.7 184.1,648.8 185.6,647.3 183.3,639.2 185.4,648.5 185.5,639.1 186.4,655.1 184.1,621.2 186.0,633.0 185.4,626.0 189.7,657.9 185.7,618.5 191.0,654.1 186.4,612.6 189.1,629.7 191.7,646.8 189.0,618.5 193.1,648.0 189.1,608.8 194.0,648.2 190.1,608.0 194.9,645.0 193.6,629.9 196.4,652.6 195.8,643.0 193.1,610.8 195.7,629.9 194.1,612.9 197.7,636.4 196.7,625.7 197.8,630.3 199.3,633.2 198.9,625.9 197.5,614.7 201.0,637.3 197.4,602.4 202.0,637.5 201.0,621.2 200.2,611.2 202.7,629.3 198.5,589.3 204.6,634.7 200.5,597.5 205.6,634.4 203.8,615.0 206.2,631.4 203.3,603.7 205.2,614.5 208.8,640.4 205.5,610.7 208.1,626.2 207.5,615.5 209.5,626.4 209.8,626.6 208.3,607.4 209.7,618.3 210.6,619.1 211.0,619.4 210.4,606.3 212.5,622.6 213.0,622.0 212.1,613.2 215.9,634.0 214.2,619.8 213.8,613.4 216.5,631.0 214.4,607.8 217.5,629.5 214.7,600.8 216.7,614.0 217.0,611.9 221.4,643.4 217.0,605.5 220.5,625.6 219.6,614.7 218.6,606.6 221.7,622.8 219.4,601.7 219.9,600.0 222.5,615.6 222.0,605.8 223.4,614.1 221.2,593.0 224.8,619.4 222.7,594.6 227.1,629.5 225.6,609.8 229.2,636.1 225.9,603.0 227.0,612.8 227.4,606.1 228.6,612.7 227.0,601.3 229.7,614.9 231.7,626.3 229.6,603.5 229.5,598.9 231.3,607.8 231.2,605.7 232.7,616.1 232.0,601.6 233.4,608.1 234.3,611.4 231.0,579.3 236.7,625.3 233.5,590.8 236.5,612.4 239.1,626.9 234.4,585.6 238.8,615.9 240.2,622.5 238.0,601.8 237.5,594.3 239.2,601.7 239.1,596.4 239.2,593.1 241.3,605.1 239.2,586.7 242.9,611.6 242.4,601.1 243.3,603.3 242.6,592.3 244.8,604.5 244.3,598.6 246.1,606.1 244.8,592.4 246.5,599.4 245.4,587.1 245.8,587.3 245.3,575.1 248.3,598.1 247.9,586.1 249.2,594.6 247.4,579.1 249.9,591.4 248.1,572.6 251.9,597.5 250.6,582.1 251.3,585.0 253.0,590.7 252.8,585.6 250.3,559.9 254.3,589.0 252.1,563.2 256.1,594.5 254.7,572.7 254.6,573.4 256.2,577.3 255.9,571.5 256.8,574.2 257.8,573.9 258.2,575.9 258.3,572.6 259.1,571.5 259.5,572.7 260.0,571.8 260.4,569.4 261.0,572.7 262.0,579.5 262.3,577.7 264.0,584.2 261.8,574.0 263.0,579.7 263.7,579.7 264.3,587.6 264.4,584.9 264.0,582.9 265.1,590.2 265.2,589.4 265.5,589.8 266.1,593.1 266.8,597.1 267.4,597.0 268.0,600.8 268.8,603.3 269.5,606.6 270.2,611.2 271.0,612.0 271.5,612.9 271.9,617.8 270.9,611.7 271.8,620.2 272.5,617.3 272.0,622.0 272.5,617.6 273.3,620.1 273.0,613.3 275.7,628.8 277.0,635.6 276.0,625.0 274.6,609.9 279.0,642.2 275.4,605.9 279.0,630.5 277.9,616.2 278.8,620.4 279.0,620.8 279.6,618.3 282.8,638.2 279.0,604.8 283.6,640.6 282.0,619.5 285.1,643.6 283.0,623.3 282.4,610.7 285.0,627.9 282.5,604.7 287.4,637.5 285.3,617.9 285.9,618.8 287.2,625.5 284.7,600.5 290.6,644.4 288.7,625.9 286.7,605.9 291.1,635.7 290.2,626.3 292.1,635.1 288.1,602.0 290.7,616.7 291.9,622.1 294.8,641.7 291.4,609.8 293.7,622.4 294.7,631.6 291.1,596.0 296.4,636.1 292.5,598.8 296.8,632.4 292.6,592.6 297.4,628.8 297.0,619.2 298.0,624.2 298.6,626.8 297.8,616.7 298.4,615.0 297.9,610.8 301.5,633.5 300.4,617.9 302.2,627.5 300.2,608.1 304.6,640.5 301.0,606.8 302.2,613.3 305.3,631.7 303.2,613.5 305.6,627.9 306.5,630.1 305.6,618.8 306.2,619.8 305.7,610.2 307.5,623.5 305.9,603.3 307.8,615.4 306.7,601.9 308.7,614.6 307.7,601.9 311.1,629.3 308.8,599.8 311.0,616.9 312.2,623.7 309.8,599.1 314.3,629.3 312.7,612.3 309.4,580.9 314.0,614.9 316.3,627.9 314.3,609.3 313.9,601.3 316.3,620.5 313.3,590.9 319.0,630.4 319.0,628.3 317.0,605.5 320.0,625.5 317.5,598.6 319.6,611.9 322.8,636.2 320.3,607.7 320.6,605.8 321.3,608.8 321.1,603.3 323.4,616.9 321.4,600.9 324.8,620.9 322.9,597.4 326.1,624.1 323.7,600.0 322.6,583.9 328.7,630.7 325.5,599.7 327.4,609.8 327.2,605.5 330.0,623.4 328.3,604.3 328.7,604.0 330.6,611.4 330.6,607.3 330.5,605.0 329.9,595.3 333.1,614.3 330.3,587.6 333.2,609.3 331.3,585.5 334.6,611.6 333.7,602.2 334.8,604.7 335.6,608.0 336.8,611.7 335.7,598.3 335.6,589.7 338.8,610.3 337.7,601.8 340.3,615.8 339.4,604.5 338.3,594.9 341.8,617.3 338.5,587.7 340.2,596.7 341.5,598.5 340.8,586.0 342.6,600.1 344.2,607.0 343.2,596.0 343.2,590.2 345.9,609.6 342.0,572.0 345.8,599.6 346.6,597.0 345.3,583.7 347.1,595.6 347.9,594.8 345.6,574.0 350.0,605.7 346.8,573.2 348.0,575.6 349.6,583.1 351.3,596.7 350.6,583.7 352.1,591.1 351.0,580.3 352.8,590.8 351.3,570.9 353.6,588.3 354.2,586.3 353.5,575.0 355.5,590.4 353.4,566.6 356.2,585.0 355.8,577.2 355.1,565.2 357.3,581.8 357.7,580.0 355.8,559.8 360.2,588.9 359.1,575.6 357.3,559.5 361.4,585.8 360.0,570.4 360.9,573.8 363.3,585.3 360.3,559.2 364.7,589.6 364.5,584.6 362.4,562.6 365.6,583.2 364.4,567.7 366.6,583.2 365.4,566.9 365.8,569.2 366.7,570.7 365.4,553.5 367.2,563.7 367.5,560.9 369.3,570.5 368.5,560.8 366.6,538.5 371.9,577.8 369.8,558.5 371.3,563.4 372.4,569.3 370.5,548.6 372.8,565.4 371.4,548.1 373.8,563.7 372.9,547.6 376.7,573.5 375.6,559.2 374.7,550.4 376.2,558.6 375.7,546.6 378.0,561.6 376.8,546.8 377.9,548.1 378.9,555.4 380.0,557.4 377.9,534.2 381.5,559.5 379.7,537.6 378.9,528.3 382.1,547.3 379.1,521.2 384.1,557.2 383.2,540.7 384.0,544.1 384.6,541.2 382.6,522.4 387.0,553.5 386.2,543.5 384.4,523.3 387.0,537.2 386.7,532.7 388.0,538.0 388.6,537.0 388.0,527.9 388.8,525.1 387.9,513.9 392.9,549.0 389.1,512.9 389.3,510.2 389.7,507.7 392.2,528.8 390.6,504.4 394.2,527.6 394.4,525.1 392.8,505.8 395.7,522.8 392.7,494.5 395.3,508.8 394.6,500.3 396.1,505.3 397.7,512.5 394.5,480.8 400.3,526.4 398.1,500.0 398.6,507.7 397.1,489.1 400.3,498.2 398.5,487.7 400.2,498.5 401.1,491.3 401.8,495.0 400.7,474.9 400.7,479.1 402.7,497.8 402.2,483.7 401.8,480.6 402.4,479.7 402.4,474.0 403.6,486.7 406.1,485.4 404.5,475.3 404.4,467.4 405.6,473.1 404.5,464.3 404.9,464.2 407.1,468.3 406.0,463.5 406.3,463.0" fill="none" stroke="#37F53B" stroke-width="1.25" stroke-linejoin="round"/>
<polyline points="50.0,842.3 50.1,839.1 50.9,840.5 50.9,841.5 50.8,831.7 51.8,829.4 52.6,835.0 51.1,825.9 51.7,833.8 50.9,821.7 52.6,830.2 53.2,821.3 51.7,822.5 51.5,822.4 53.1,820.4 53.2,822.3 53.7,813.8 51.9,816.1 52.7,813.3 52.8,811.8 52.9,808.1 53.0,806.0 53.0,803.0 53.1,800.4 53.2,797.2 53.3,796.3 53.4,791.1 53.4,789.2 53.5,786.3 53.5,783.4 53.6,780.9 53.6,777.7 53.7,775.8 53.8,771.3 53.9,768.4 53.9,765.1 54.0,761.4 54.3,763.3 54.6,765.2 54.9,765.5 55.3,769.3 55.2,767.7 57.0,775.1 56.5,765.9 57.2,778.6 56.3,775.2 56.1,770.4 58.4,786.2 57.0,780.6 59.1,789.0 59.4,784.1 57.5,773.9 59.1,789.8 60.4,793.7 62.3,801.0 58.3,781.6 61.0,796.9 59.6,789.8 62.5,808.3 60.8,797.2 62.6,800.7 62.3,805.2 63.7,813.4 61.9,795.2 63.6,808.3 64.2,811.8 62.8,792.7 64.8,812.8 64.6,808.2 65.5,818.8 64.5,808.4 67.6,822.7 65.8,815.7 68.0,826.6 67.0,816.9 67.4,815.7 68.2,822.6 70.3,836.9 68.5,815.6 70.4,831.9 68.6,817.9 70.9,822.9 69.0,810.1 71.0,822.4 70.5,809.3 72.0,826.8 70.7,805.5 72.2,814.7 71.5,802.5 73.4,815.6 72.1,797.9 72.9,799.8 73.5,801.3 75.1,811.0 73.8,795.7 76.2,812.9 75.3,802.7 75.4,795.9 77.9,814.1 74.2,780.4 77.0,801.5 76.8,790.9 79.1,807.2 77.7,793.2 79.2,802.2 78.8,793.9 80.3,805.0 80.1,797.9 77.9,774.8 82.1,806.8 80.7,790.1 78.9,773.3 83.2,801.6 82.8,797.5 81.9,785.2 84.2,803.0 84.4,796.9 86.9,811.3 84.1,787.8 85.7,799.5 84.7,786.2 87.1,802.8 86.2,790.5 86.6,790.4 86.8,787.7 89.5,806.5 86.5,779.9 88.1,786.7 88.8,789.4 87.8,777.9 91.6,805.4 87.2,765.0 90.5,786.5 91.6,792.9 92.0,794.2 91.0,783.0 93.2,793.1 90.6,768.5 94.7,799.1 92.6,776.1 95.1,796.5 91.8,764.0 97.5,805.4 94.0,775.6 95.5,785.6 97.7,799.0 97.8,793.7 95.8,771.0 100.1,803.2 96.3,771.5 97.1,770.9 98.7,778.7 97.9,770.8 99.0,773.9 100.7,783.0 101.3,786.9 101.1,782.2 99.3,760.3 104.2,798.8 98.0,746.4 103.7,784.8 103.7,785.3 102.3,766.4 105.1,785.3 102.8,764.5 103.3,766.8 105.8,782.5 103.9,765.1 107.9,790.6 103.3,756.6 106.5,779.7 107.2,782.1 108.7,791.1 109.3,792.7 105.4,758.3 107.5,771.7 108.6,781.0 111.1,796.1 108.9,774.1 110.7,788.5 109.9,777.3 112.0,792.9 109.2,759.6 113.5,795.9 108.9,757.3 111.6,773.2 113.5,786.9 113.7,783.6 115.3,795.4 113.7,778.2 115.5,789.6 117.9,806.0 116.6,790.0 115.4,780.1 117.5,793.6 116.5,780.1 116.7,778.0 118.9,794.7 118.1,785.1 119.8,796.5 116.6,765.6 119.8,793.0 119.1,784.2 119.9,781.8 119.3,775.1 123.1,799.7 120.9,779.4 120.3,769.5 123.2,788.0 122.8,779.9 121.2,761.3 124.2,782.4 122.1,764.7 126.5,793.0 124.8,776.3 126.9,788.8 122.8,752.2 128.2,790.6 127.0,775.8 126.8,772.6 127.7,774.8 127.4,769.2 130.9,794.1 127.6,763.8 132.1,797.0 127.8,755.2 128.9,761.9 130.3,772.7 132.5,787.0 131.7,776.0 131.2,769.9 134.2,788.6 131.0,760.7 131.1,756.6 133.6,774.4 134.5,778.6 134.2,774.3 135.0,774.7 136.9,785.4 135.0,769.2 134.4,760.9 137.6,782.7 139.2,793.8 134.9,753.2 139.8,791.2 140.7,794.5 136.0,749.0 139.0,773.2 139.7,776.1 138.4,759.9 139.2,761.0 140.5,766.0 140.7,764.3 142.2,778.1 143.3,778.0 141.6,760.2 142.2,762.5 144.9,778.7 140.9,743.2 144.2,764.9 142.0,743.2 147.2,784.0 143.5,748.5 147.8,775.4 144.6,748.0 148.4,773.2 145.8,749.0 148.7,771.3 147.3,752.6 149.1,762.2 146.9,742.7 149.1,756.0 149.2,755.0 150.2,755.6 152.6,773.0 149.0,739.1 152.6,764.1 149.8,734.7 150.4,737.1 154.7,770.2 150.0,730.1 154.2,759.6 152.7,740.2 155.4,762.8 153.9,743.9 155.8,755.0 156.8,759.0 154.7,735.1 158.2,757.6 157.2,749.9 156.6,739.4 158.7,751.7 157.9,743.5 157.2,731.3 159.9,752.4 157.2,723.2 161.3,749.6 158.9,727.6 161.8,745.8 159.7,723.0 163.6,752.0 161.8,730.3 162.1,729.6 163.0,732.6 162.4,722.0 163.6,729.8 165.6,738.5 163.7,718.8 165.7,733.2 164.8,719.4 166.5,728.9 165.7,719.1 166.6,724.7 165.8,715.6 168.1,729.6 166.2,709.8 168.2,722.7 168.6,721.5 168.4,718.3 169.1,721.4 169.9,726.3 171.2,733.1 168.6,719.2 170.1,726.6 172.1,739.3 171.8,732.0 171.8,733.3 172.1,735.6 172.4,737.6 172.7,738.1 173.0,740.4 173.6,743.6 174.2,745.8 174.8,748.5 175.4,750.7 176.0,753.0 176.6,756.0 177.2,761.1 177.8,761.2 178.4,766.5 179.0,767.0 179.4,771.1 179.3,766.0 180.5,776.8 180.6,775.4 182.5,777.5 182.0,781.8 181.3,772.7 182.8,786.1 182.6,781.8 182.7,779.4 183.1,784.6 183.0,780.2 184.8,792.6 184.6,788.6 185.3,792.4 184.4,783.2 187.1,798.8 185.1,782.7 186.2,787.7 187.9,801.5 186.5,788.0 188.3,797.5 187.7,790.9 188.5,795.6 190.0,805.4 189.4,794.8 192.1,816.4 190.1,795.0 191.9,803.3 191.4,801.4 193.5,812.7 189.5,782.8 191.5,795.8 192.9,800.2 191.2,786.8 193.0,796.9 190.9,773.4 192.7,790.8 192.5,787.7 193.6,786.6 193.0,779.5 193.6,782.3 194.6,785.1 193.7,774.0 197.1,797.5 193.5,762.2 195.7,778.6 197.5,789.6 195.2,764.3 197.0,781.1 196.7,772.5 199.0,787.4 197.2,769.6 198.1,773.5 200.9,791.8 199.8,779.9 200.9,783.9 203.2,794.3 199.1,762.8 202.0,782.4 201.1,771.5 202.9,780.4 204.5,792.0 203.1,774.7 205.4,789.9 202.4,762.0 206.9,799.8 204.2,769.3 204.2,767.9 206.3,779.7 205.2,767.4 205.9,771.9 208.0,783.0 207.7,778.5 208.8,782.5 210.4,792.2 208.1,767.0 211.6,792.4 206.9,753.2 212.1,792.5 208.2,752.8 211.6,778.2 211.1,770.4 212.5,778.8 210.4,757.1 213.6,780.7 212.3,765.5 212.5,763.9 211.9,756.3 215.0,778.1 213.3,759.0 218.7,798.4 213.4,752.9 214.3,759.2 217.0,777.0 219.3,792.1 215.2,754.8 216.1,756.6 217.4,763.7 219.4,774.4 217.6,758.7 221.7,790.3 221.4,780.4 219.2,760.2 221.1,774.6 218.9,753.8 223.2,788.2 221.0,759.8 222.3,770.5 222.3,766.3 223.2,767.4 221.9,750.4 225.7,781.5 224.5,766.2 225.1,770.6 223.6,751.3 226.0,767.9 227.1,773.1 227.0,769.2 226.3,761.8 228.6,776.4 227.8,765.1 228.8,767.9 227.2,750.2 229.1,760.8 229.3,759.6 231.3,776.2 231.0,765.1 230.6,763.2 230.4,751.3 233.6,778.2 231.1,754.0 230.5,746.7 236.2,784.1 235.4,777.0 233.8,758.4 233.6,756.1 235.3,763.9 236.0,767.4 235.3,753.9 237.3,770.9 235.7,752.9 237.1,760.8 237.9,760.9 237.5,754.5 239.5,768.3 237.8,749.0 240.9,769.6 237.9,743.2 240.4,757.5 240.7,758.8 241.6,764.2 239.6,742.6 244.1,774.6 241.5,749.3 243.6,761.3 242.3,749.7 244.1,758.9 243.1,751.6 243.9,752.0 243.8,744.6 244.3,747.5 245.9,759.0 244.5,740.0 244.8,741.3 248.4,761.8 245.1,735.1 246.3,741.0 250.3,769.3 247.1,737.8 247.1,734.0 249.8,752.2 247.4,732.4 249.2,743.1 251.7,757.1 249.6,738.2 250.2,737.8 252.4,754.1 250.5,730.9 253.9,755.1 251.1,727.0 254.9,759.7 252.0,731.1 254.9,747.4 253.4,733.8 256.3,750.3 253.3,722.9 255.6,738.6 253.5,713.3 258.3,751.4 258.0,741.1 257.5,733.0 258.5,740.8 257.0,721.4 258.3,724.5 259.9,735.5 258.9,721.5 261.1,738.5 259.7,721.8 262.4,738.4 260.7,722.5 260.7,721.3 261.3,717.3 265.1,744.5 262.4,725.2 262.8,724.9 264.0,731.9 264.3,732.7 262.5,722.3 264.3,731.4 264.8,734.7 264.7,736.2 266.4,739.8 266.6,743.4 267.0,743.8 266.0,741.1 266.8,745.2 267.5,747.3 268.2,751.0 269.0,753.9 269.8,755.1 270.5,759.0 271.2,761.6 272.0,766.2 272.4,766.1 272.0,766.7 273.3,771.6 274.1,775.1 273.8,777.0 275.5,778.9 274.3,768.5 274.3,779.3 275.0,774.3 275.4,777.7 276.0,784.9 278.6,787.1 277.5,791.0 276.5,787.2 278.9,793.0 277.3,790.2 278.1,786.0 281.0,804.4 280.2,796.9 278.4,786.1 281.1,806.3 280.3,800.5 280.7,798.2 281.5,800.4 281.7,794.5 281.7,780.0 284.7,808.3 281.4,782.3 282.1,791.0 282.0,780.5 283.0,780.4 284.1,784.7 284.4,787.0 283.4,772.2 285.0,786.1 285.6,784.9 283.7,766.2 287.6,795.0 284.1,760.5 286.4,775.5 286.6,775.5 288.7,786.5 284.8,752.0 285.4,751.5 290.1,789.6 289.9,782.1 290.1,784.8 288.4,765.3 288.6,760.8 291.6,783.8 289.8,767.4 293.3,789.1 291.0,765.4 292.8,778.3 291.6,764.5 295.1,792.7 296.0,793.7 293.9,773.6 296.3,788.6 295.2,777.8 297.2,790.4 294.9,766.3 295.1,764.2 297.0,779.4 297.9,781.1 295.6,759.7 299.6,788.8 298.4,777.8 296.4,754.9 299.6,780.7 298.1,761.2 300.0,775.0 300.0,774.6 301.0,775.2 300.9,769.0 304.1,792.7 303.2,785.0 304.0,785.8 300.9,758.4 304.0,781.7 303.5,773.7 303.3,767.5 304.7,775.0 306.3,785.9 305.2,772.2 307.4,789.1 306.8,775.5 304.2,753.2 309.3,793.2 306.9,765.9 306.7,763.6 308.5,775.0 307.7,763.2 310.4,784.9 308.2,761.1 311.7,788.8 309.1,761.4 312.4,785.6 311.5,773.8 311.7,772.8 311.1,762.4 312.9,774.6 312.2,767.3 314.7,781.9 311.3,748.8 309.7,735.7 316.1,784.3 312.6,752.2 314.9,765.5 314.4,760.5 316.3,769.9 315.6,757.5 314.4,746.2 318.2,775.6 317.6,766.9 318.5,769.7 317.6,760.0 318.5,763.8 317.4,752.4 319.8,768.8 317.7,749.6 322.7,781.4 319.1,752.4 322.4,771.8 320.6,755.9 324.2,780.9 322.7,767.2 324.3,776.5 322.4,756.2 324.3,768.9 323.9,758.0 323.9,757.1 326.2,774.9 324.9,757.5 326.9,769.6 324.4,743.7 325.4,751.6 329.7,782.2 329.1,770.2 328.6,765.1 330.7,779.4 327.7,753.6 328.4,750.2 331.1,772.2 328.6,747.4 331.0,762.5 330.9,756.2 331.0,754.0 332.2,761.3 331.3,749.0 333.9,770.0 331.3,741.0 333.8,760.9 333.7,754.7 334.3,756.3 336.2,771.9 332.6,734.2 335.8,755.6 333.8,736.7 338.3,770.9 334.7,737.4 340.3,779.9 338.6,759.8 338.1,753.0 340.4,770.8 337.8,745.2 337.4,737.2 340.4,759.1 339.7,750.7 341.5,760.9 340.2,743.7 341.5,752.1 339.8,737.8 344.9,772.3 342.6,749.6 341.0,734.7 342.3,737.8 344.3,752.7 342.5,733.8 344.5,746.4 345.4,751.7 344.9,744.5 343.8,731.7 348.7,767.9 344.0,724.6 349.3,765.0 348.3,753.6 346.8,735.2 347.3,736.3 348.0,738.8 346.1,723.0 350.1,749.8 349.4,740.6 351.1,749.8 349.2,732.3 351.5,744.1 350.6,733.2 354.6,759.0 352.1,738.8 354.1,750.1 353.0,736.9 354.0,744.7 353.3,737.0 355.1,746.9 356.1,751.2 354.6,734.7 357.7,752.9 353.7,719.7 356.7,740.8 355.7,727.5 356.8,732.6 356.5,728.0 358.1,737.5 360.7,752.9 357.1,721.7 360.3,742.0 359.9,734.3 358.6,722.1 361.6,743.6 360.9,737.1 360.6,725.0 362.0,737.3 364.4,751.3 361.4,722.6 362.9,730.9 364.8,741.3 362.8,723.5 361.2,706.2 366.7,749.1 364.5,725.9 364.5,722.1 364.9,723.0 365.3,720.3 368.2,742.4 367.0,726.4 368.0,730.5 367.5,719.8 369.1,735.0 366.9,710.9 370.5,741.0 369.4,727.0 369.5,723.0 368.8,711.9 373.3,743.7 369.2,705.9 373.4,737.8 369.5,698.0 372.6,722.6 372.9,723.6 373.8,728.3 374.6,728.5 373.0,709.7 374.7,721.7 374.7,715.6 373.1,698.4 376.1,717.8 376.2,717.3 376.6,715.9 376.7,713.3 378.2,720.3 377.8,710.6 379.4,723.1 378.1,712.5 379.1,713.7 379.4,708.7 380.4,717.2 381.5,718.6 380.1,705.3 381.8,715.5 382.8,719.7 382.2,710.6 384.0,720.7 381.3,698.1 383.4,707.2 383.2,699.8 385.7,722.3 385.2,708.6 384.8,703.0 386.4,712.4 384.5,691.8 386.7,707.2 388.0,710.5 385.6,690.1 389.2,715.8 388.5,704.7 388.0,695.8 390.0,710.2 388.7,691.9 389.2,696.4 389.7,689.6 390.4,693.5 391.2,698.5 390.4,685.2 393.1,704.5 390.7,680.6 395.9,717.0 391.7,681.2 393.6,690.1 393.6,680.4 393.0,674.4 395.9,696.4 394.4,677.4 395.9,684.7 395.3,675.4 397.0,687.4 398.5,684.7 395.9,661.8 398.5,685.2 397.7,668.7 399.4,680.9 398.0,657.9 401.0,680.8 399.0,661.3 399.2,661.3 400.5,665.4 402.4,666.3 401.6,664.6 400.7,654.9 402.5,666.1 401.1,646.6 403.1,669.1 403.8,660.6 402.8,653.1 404.1,656.0 403.4,640.1 404.1,648.6 404.4,649.7 405.1,654.0 405.9,658.1 405.1,632.0 407.3,651.2 406.0,639.4 407.4,642.4 408.0,643.8 405.9,630.0 408.3,642.3 406.7,626.3 408.4,636.5 407.5,620.7 408.8,631.9 408.1,619.4 407.8,612.0 410.2,627.1 411.0,629.3 408.8,609.1 411.5,632.8 407.9,591.0 411.5,624.6 409.8,608.6 411.2,614.0 411.9,607.0 411.6,609.2 413.4,616.0 410.6,590.4 413.7,614.7 413.5,613.1 413.7,605.0 414.7,608.5 413.9,594.8 413.2,590.5 413.3,590.2 413.3,589.4 414.0,588.5 412.7,585.8 415.5,591.4 412.1,581.8 413.2,583.3 413.1,581.0 413.0,580.0" fill="none" stroke="#C24A06" stroke-width="1.25" stroke-linejoin="round"/>
<polyline points="471.0,246.1 471.0,245.8 471.1,243.7 471.1,242.1 471.2,241.8 471.8,237.1 471.4,239.5 471.9,235.4 471.5,236.9 470.9,229.6 471.9,233.9 472.3,236.2 470.9,224.5 471.9,224.3 472.6,221.6 471.6,225.1 473.0,226.7 473.2,218.1 473.0,225.9 472.8,211.8 474.2,215.8 474.8,218.0 476.4,225.6 474.7,204.5 478.1,229.6 477.3,217.0 476.1,200.7 479.4,223.2 477.7,204.3 480.5,218.6 481.8,228.2 482.2,220.3 480.4,202.5 480.8,200.9 482.4,204.6 484.8,221.4 481.9,192.0 486.4,226.2 484.0,198.6 486.7,215.9 485.7,202.3 487.5,210.5 486.8,200.3 488.6,209.8 487.9,199.5 488.7,202.4 488.1,190.9 492.4,218.2 491.1,204.5 491.8,202.7 491.5,196.6 493.4,207.9 493.3,197.7 494.9,208.4 492.8,189.4 496.1,204.4 495.9,198.9 497.1,203.8 496.7,193.6 499.8,212.5 499.5,207.6 499.6,199.1 500.4,204.8 499.0,186.7 501.6,203.1 499.5,180.7 503.5,205.4 502.1,188.1 501.9,180.8 504.9,201.5 504.2,185.3 504.5,188.2 505.4,189.7 506.7,195.4 506.7,185.0 507.2,182.8 507.4,178.7 508.5,182.5 510.0,186.2 510.3,177.6 510.7,183.1 509.7,166.5 513.0,184.6 509.4,164.9 512.2,176.1 512.8,176.3 510.0,151.5 514.5,174.5 512.8,161.3 513.4,157.5 515.4,173.1 513.3,154.1 515.4,160.1 515.8,158.4 516.3,157.1 516.6,150.9 517.2,151.5 517.5,147.4 517.4,144.8 519.2,151.9 518.4,138.0 519.3,145.8 519.0,136.4 520.2,141.9 519.4,133.4 521.0,142.2 519.9,133.6 520.0,133.7 520.4,135.2 520.8,138.0 521.2,140.3 521.6,144.0 522.1,145.7 522.5,149.5 523.0,151.5 523.5,155.4 524.0,158.0 524.5,161.4 525.0,163.6 525.5,166.7 526.0,169.9 526.5,172.8 527.0,174.4 527.5,179.0 527.8,178.9 528.1,181.8 528.0,179.3 528.4,186.2 529.8,188.1 530.1,189.9 529.3,185.2 531.3,198.5 529.1,188.2 530.5,195.5 530.1,195.9 531.4,197.8 533.2,203.9 530.6,193.6 533.5,208.2 532.6,201.2 533.5,204.9 534.3,201.7 535.6,210.8 535.6,206.7 534.3,204.7 536.8,196.8 538.8,211.1 535.3,192.3 537.7,199.5 537.7,195.4 539.1,202.9 537.6,193.1 537.3,185.8 538.8,195.9 538.2,187.5 537.9,179.9 538.9,194.8 537.2,176.7 539.4,185.1 538.1,175.2 540.7,184.4 539.7,177.4 540.1,180.9 540.6,177.4 540.8,185.9 540.6,179.6 541.5,189.2 540.9,182.3 543.0,195.4 542.6,192.0 541.6,182.4 543.6,197.6 544.2,196.4 544.1,192.4 546.0,203.1 544.4,197.5 546.1,202.4 546.0,203.4 546.3,204.4 546.7,206.4 547.0,208.6 547.6,210.9 548.2,215.1 548.9,217.1 549.5,221.7 550.1,224.1 550.7,227.3 551.3,231.6 551.9,233.7 552.5,237.5 552.6,235.4 552.7,234.1 552.8,232.1 552.9,230.7 552.9,227.8 554.0,231.1 552.7,219.7 553.4,224.8 554.7,227.3 553.1,211.7 553.5,218.7 553.8,219.9 553.9,220.7 554.5,216.4 554.9,218.0 554.5,209.7 555.0,207.6 557.3,220.6 555.7,209.9 558.1,220.7 558.6,218.3 557.8,206.1 562.2,233.8 558.8,203.9 561.8,225.1 560.0,208.6 560.9,207.6 564.1,232.3 561.4,203.8 563.6,218.4 564.4,219.2 565.7,224.8 564.3,205.9 567.0,219.9 567.4,220.6 566.3,206.7 570.2,236.8 567.3,206.2 567.8,206.8 569.9,217.3 571.7,227.8 570.0,210.2 573.0,225.4 571.8,210.6 571.2,203.4 573.5,214.4 574.0,216.2 572.8,197.3 575.8,220.2 574.9,207.8 576.8,216.3 577.8,216.9 577.5,213.6 579.0,219.0 577.4,197.2 578.1,200.1 580.1,212.6 579.0,198.9 582.0,217.6 582.0,212.7 580.8,194.1 582.5,204.4 584.4,215.7 582.9,200.0 586.1,217.7 584.2,201.8 586.4,212.1 585.9,201.8 585.9,197.2 587.4,203.4 589.0,211.4 588.5,203.4 587.6,190.1 589.3,198.9 592.0,215.3 589.7,188.5 592.4,208.1 592.0,198.0 592.5,197.2 594.0,202.0 594.1,197.6 595.8,206.9 594.2,186.3 597.2,211.1 596.9,201.3 597.4,200.0 597.6,196.2 598.7,199.4 597.0,179.5 600.9,207.5 599.1,187.3 601.7,203.5 599.7,178.1 601.7,192.8 602.4,192.5 603.1,192.8 602.7,184.4 604.7,195.0 605.4,196.9 605.8,188.6 605.6,181.9 605.9,180.5 607.2,186.2 607.1,180.9 609.7,195.9 609.2,185.6 609.8,187.1 608.4,172.7 610.7,182.3 610.4,175.1 610.6,170.8 612.8,182.8 613.9,184.8 614.4,182.2 614.2,175.9 616.4,182.7 614.5,165.4 617.1,181.4 619.1,189.4 616.5,164.2 618.4,171.8 618.2,163.9 621.0,185.1 618.6,159.0 621.4,174.7 621.8,174.0 622.1,170.1 622.1,159.7 622.6,160.8 623.7,165.5 625.5,170.4 623.0,144.3 626.3,168.3 626.0,162.5 625.5,148.4 628.5,167.4 625.7,141.4 628.1,155.2 628.5,149.5 627.5,139.3 629.8,150.4 628.2,133.0 630.2,143.8 629.5,132.3 632.2,148.8 630.2,126.6 631.6,131.6 633.3,141.2 632.7,131.7 635.2,145.2 633.0,121.9 633.8,131.3 633.3,119.2 636.5,136.3 637.3,136.5 634.5,119.1 636.3,114.0 636.0,111.0 637.2,114.2 637.2,107.5 638.4,113.9 639.6,123.0 640.0,116.8 640.0,111.8 637.9,90.6 638.0,99.0 639.4,104.3 639.9,95.0 642.3,114.2 642.0,104.3 640.1,87.2 643.0,104.9 642.2,97.9 643.5,98.1 643.2,96.7 641.7,85.1 643.5,88.7 644.5,92.2 644.2,89.2 643.1,77.8 646.1,91.4 644.8,75.9 645.8,88.5 645.6,87.9 646.3,84.0 645.0,69.1 646.4,74.0 645.3,66.1 646.4,69.8 646.3,69.4 647.5,74.7 646.9,67.0 647.0,65.9" fill="none" stroke="#FA0B7C" stroke-width="1.15" stroke-linejoin="round"/>
<polyline points="461.0,375.4 461.2,378.0 461.4,377.0 460.8,377.1 462.1,379.9 461.9,386.6 461.8,381.9 461.9,387.5 462.1,388.1 464.3,395.4 462.9,392.7 462.8,394.3 464.6,394.8 464.8,399.6 464.2,396.7 464.7,400.1 465.0,401.3 465.4,401.0 465.4,398.6 465.6,397.1 465.2,388.9 466.5,394.1 465.4,386.3 466.9,393.9 465.7,383.6 466.4,385.8 467.6,389.5 468.2,390.2 467.9,379.0 469.1,385.1 468.3,373.7 470.8,388.0 470.9,383.8 470.2,371.2 472.3,384.8 471.9,377.9 472.4,373.2 472.4,366.6 475.5,385.3 474.3,370.5 475.9,377.3 475.7,370.8 475.2,360.2 476.8,365.6 477.9,370.7 478.4,369.0 477.9,355.8 479.8,368.0 480.3,367.5 480.1,360.2 481.0,359.6 482.1,360.3 482.0,356.6 482.1,352.2 485.2,368.1 483.5,350.9 484.8,355.9 485.7,356.0 484.4,347.9 487.1,361.7 486.9,350.8 488.5,362.0 491.0,375.4 488.0,345.6 488.3,342.8 492.3,369.7 490.9,351.1 492.0,354.0 493.1,359.0 493.1,353.4 494.5,361.3 493.5,345.8 495.9,360.6 494.2,339.0 496.4,354.3 498.3,362.6 496.2,338.1 499.0,353.4 499.1,350.3 499.7,350.2 500.8,351.3 501.0,350.9 500.8,341.0 502.6,350.3 501.8,338.9 504.2,351.7 503.4,338.7 503.5,334.5 503.8,331.6 506.6,350.4 505.3,332.7 506.1,335.5 507.0,339.3 509.1,347.0 507.7,328.8 509.3,338.4 508.8,329.0 511.0,340.1 510.2,328.4 511.8,334.7 512.3,335.7 513.1,332.0 511.8,319.8 515.5,337.9 512.9,311.6 515.0,322.0 514.3,310.7 517.9,333.0 516.4,316.4 516.5,307.2 519.0,324.2 519.9,323.7 518.1,306.9 519.8,313.0 519.2,300.5 521.5,313.8 520.9,305.0 521.7,304.8 524.0,314.3 522.8,303.0 523.5,307.6 524.6,310.2 524.9,316.0 524.9,312.4 525.5,317.0 525.8,317.0 526.2,319.3 526.5,321.0 527.1,324.0 527.8,326.6 528.4,330.5 529.0,332.4 529.6,336.1 530.2,338.5 530.9,342.1 531.5,344.4 531.9,346.8 532.8,351.9 531.0,341.0 533.9,359.3 534.0,355.5 534.0,354.9 534.0,352.9 535.2,358.3 536.7,365.3 536.2,362.9 536.0,359.2 538.1,372.2 537.4,361.5 538.1,367.2 540.2,376.0 539.6,368.1 540.9,374.6 538.7,352.7 542.3,377.3 540.9,360.2 544.8,388.0 540.7,348.1 544.9,379.8 542.5,352.8 546.3,382.5 547.6,386.7 545.1,362.1 547.1,371.9 548.1,376.5 546.3,355.6 551.4,393.5 549.2,368.7 550.9,376.8 549.6,361.5 550.8,369.2 552.2,372.2 551.4,361.8 555.0,387.0 553.3,366.3 556.4,386.3 552.9,351.5 556.3,376.0 554.6,357.2 559.1,386.0 557.9,368.4 558.6,367.3 557.1,351.3 559.8,370.5 561.9,377.6 562.7,379.9 561.5,365.5 560.0,347.6 562.7,363.1 561.7,347.8 565.6,371.5 563.0,348.3 564.6,356.4 564.4,349.9 566.3,358.5 566.0,350.6 568.1,362.0 567.6,356.6 568.3,352.8 567.9,351.4 569.2,352.6 571.0,361.4 570.7,354.4 572.6,365.6 571.2,349.3 572.7,358.5 573.1,355.4 575.1,367.2 573.7,350.9 576.2,366.3 573.8,342.6 577.4,367.9 574.3,335.8 579.2,370.4 576.9,347.1 577.6,348.3 579.2,357.0 580.2,361.5 580.5,357.7 580.3,352.4 583.2,373.5 580.4,343.7 583.3,360.7 584.1,358.4 583.8,355.0 583.8,349.6 584.9,353.0 584.1,340.6 587.3,360.1 585.6,342.0 589.0,364.3 587.6,352.3 588.5,352.1 591.0,364.6 589.5,349.2 591.7,364.9 590.3,348.6 592.6,359.0 594.1,369.5 594.5,371.0 592.1,341.6 596.1,371.0 592.9,343.0 595.7,358.8 594.8,348.4 599.1,377.1 596.6,350.7 596.2,339.9 599.9,364.4 598.6,346.6 601.9,369.0 598.5,334.5 601.9,357.7 602.0,352.4 601.2,340.2 602.2,343.4 604.8,357.9 601.8,326.1 605.3,348.7 604.1,334.0 608.0,358.9 606.4,340.9 606.9,338.2 607.4,337.7 608.0,337.2 608.8,339.2 610.4,341.6 609.7,333.0 611.5,343.5 611.0,332.8 612.6,337.4 611.7,329.8 615.4,349.9 612.1,319.6 612.9,319.3 616.4,343.3 615.6,327.7 616.5,332.3 616.1,321.4 616.6,319.7 617.9,325.3 617.3,314.9 620.5,334.6 619.9,322.2 621.3,328.4 621.2,321.9 622.5,328.2 624.8,336.7 622.9,317.0 625.4,331.3 623.2,305.0 624.9,316.9 625.3,311.3 626.7,320.8 626.3,306.9 629.7,332.7 626.2,294.7 627.8,304.0 631.1,324.4 629.4,306.0 631.8,315.6 632.0,314.3 630.2,294.0 632.8,306.9 632.5,296.1 634.4,308.9 632.9,290.8 635.6,305.1 635.4,297.2 634.7,286.1 635.1,285.1 638.2,301.6 637.1,285.9 636.3,274.7 637.4,278.6 639.0,284.0 640.9,291.6 637.6,263.6 641.5,290.4 641.8,286.7 640.4,270.0 641.7,276.0 641.9,271.7 643.5,278.5 643.4,274.8 643.1,269.2 644.1,270.1 643.5,263.4 647.0,285.1 646.5,276.9 645.8,265.6 646.6,269.6 645.9,256.2 646.2,247.9 648.5,261.6 647.6,260.3 648.1,253.7 648.8,258.7 650.0,249.5 649.6,247.3 650.4,255.4 654.0,271.2 649.0,227.2 653.2,263.3 651.3,238.7 652.0,238.7 653.6,244.4 654.2,243.5 652.1,220.2 655.7,248.4 654.3,237.6 652.6,228.8 654.2,230.0 654.6,224.9 655.6,228.5 656.8,232.7 655.3,227.2 654.9,212.3 656.1,223.3 656.4,213.1 658.1,223.7 656.4,208.0 656.7,212.2 657.2,211.4 657.5,209.1" fill="none" stroke="#B336F5" stroke-width="1.15" stroke-linejoin="round"/>
<rect x="159" y="124.5" width="34.8" height="691.4" fill="#000000" fill-opacity="0.205"/>
<rect x="257.7" y="124.5" width="68.2" height="691.4" fill="#000000" fill-opacity="0.205"/>
<rect x="509.1" y="120" width="58.4" height="284.5" fill="#000000" fill-opacity="0.205"/>
<rect x="35.3" y="742.3" width="3.6" height="113.5" fill="#FF0000"/><rect x="37.0" y="853.9" width="109.9" height="3.8" fill="#FF0000"/>
<rect x="454.2" y="300.9" width="3.7" height="112.9" fill="#FF0000"/><rect x="455.9" y="411.9" width="110.1" height="3.9" fill="#FF0000"/>
<line x1="231.1" y1="139.5" x2="192.9" y2="184.0" stroke="#FE2405" stroke-width="2.45"/><polygon points="187.5,190.3 190.9,179.4 192.9,184.0 197.8,185.3" fill="#FE2405"/>
<line x1="220.1" y1="279.5" x2="181.9" y2="324.0" stroke="#FE2405" stroke-width="2.45"/><polygon points="176.5,330.3 179.9,319.4 181.9,324.0 186.8,325.3" fill="#FE2405"/>
<line x1="315.1" y1="544.2" x2="276.9" y2="588.7" stroke="#FE2405" stroke-width="2.45"/><polygon points="271.5,595.0 274.9,584.1 276.9,588.7 281.8,590.0" fill="#FE2405"/>
<line x1="225.6" y1="707.9" x2="187.4" y2="752.4" stroke="#FE2405" stroke-width="2.45"/><polygon points="182.0,758.7 185.4,747.8 187.4,752.4 192.3,753.7" fill="#FE2405"/>
<line x1="315.0" y1="698.7" x2="276.8" y2="743.2" stroke="#FE2405" stroke-width="2.45"/><polygon points="271.4,749.5 274.8,738.6 276.8,743.2 281.7,744.5" fill="#FE2405"/>
<line x1="592.2" y1="137.7" x2="554.0" y2="182.2" stroke="#FE2405" stroke-width="2.45"/><polygon points="548.6,188.5 552.0,177.6 554.0,182.2 558.9,183.5" fill="#FE2405"/>
<line x1="579.6" y1="295.8" x2="541.4" y2="340.3" stroke="#FE2405" stroke-width="2.45"/><polygon points="536.0,346.6 539.4,335.7 541.4,340.3 546.3,341.6" fill="#FE2405"/>
<text x="26.8" y="27.1" font-family='"Liberation Sans", sans-serif' font-size="18.1" font-weight="normal" fill="#000" textLength="45.1" lengthAdjust="spacingAndGlyphs">yPGK</text>
<text x="29.3" y="48.5" font-family='"Liberation Serif", serif' font-size="15.4" font-weight="bold" fill="#000" textLength="42.8" lengthAdjust="spacingAndGlyphs">N=233</text>
<text x="441.3" y="28.5" font-family='"Liberation Sans", sans-serif' font-size="18.1" font-weight="normal" fill="#000" textLength="68.8" lengthAdjust="spacingAndGlyphs">yPGKNT</text>
<text x="456.0" y="46.6" font-family='"Liberation Serif", serif' font-size="15.4" font-weight="bold" fill="#000" textLength="42.8" lengthAdjust="spacingAndGlyphs">N=154</text>
<text x="79.9" y="69.0" font-family='"Liberation Sans", sans-serif' font-size="21.0" font-weight="bold" fill="#000" textLength="40.9" lengthAdjust="spacingAndGlyphs">55%</text>
<text x="232.1" y="31.4" font-family='"Liberation Sans", sans-serif' font-size="21.0" font-weight="bold" fill="#000" textLength="40.8" lengthAdjust="spacingAndGlyphs">26%</text>
<text x="235.8" y="79.5" font-family='"Liberation Sans", sans-serif' font-size="21.0" font-weight="bold" fill="#000" textLength="29.5" lengthAdjust="spacingAndGlyphs">5%</text>
<text x="230.7" y="98.7" font-family='"Liberation Sans", sans-serif' font-size="21.0" font-weight="bold" fill="#000" textLength="29.4" lengthAdjust="spacingAndGlyphs">2%</text>
<text x="205.6" y="124.2" font-family='"Liberation Sans", sans-serif' font-size="21.0" font-weight="bold" fill="#000" textLength="39.7" lengthAdjust="spacingAndGlyphs">13%</text>
<text x="606.4" y="20.5" font-family='"Liberation Sans", sans-serif' font-size="21.0" font-weight="bold" fill="#000" textLength="40.6" lengthAdjust="spacingAndGlyphs">19%</text>
<text x="470.1" y="100.4" font-family='"Liberation Sans", sans-serif' font-size="21.0" font-weight="bold" fill="#000" textLength="41.0" lengthAdjust="spacingAndGlyphs">81%</text>
<text x="0.1" y="141.4" font-family='"Liberation Sans", sans-serif' font-size="25.2" font-weight="bold" fill="#000">A</text>
<text x="0.3" y="308.0" font-family='"Liberation Sans", sans-serif' font-size="25.2" font-weight="bold" fill="#000">B</text>
<text x="-0.1" y="435.1" font-family='"Liberation Sans", sans-serif' font-size="25.2" font-weight="bold" fill="#000">C</text>
<text x="0.3" y="581.8" font-family='"Liberation Sans", sans-serif' font-size="25.2" font-weight="bold" fill="#000">D</text>
<text x="0.2" y="727.6" font-family='"Liberation Sans", sans-serif' font-size="25.2" font-weight="bold" fill="#000">E</text>
<text x="435.3" y="150.6" font-family='"Liberation Sans", sans-serif' font-size="25.2" font-weight="bold" fill="#000">F</text>
<text x="435.9" y="296.7" font-family='"Liberation Sans", sans-serif' font-size="25.2" font-weight="bold" fill="#000">G</text>
<text x="148.8" y="146.0" font-family='"Liberation Serif", serif' font-size="15.0" font-weight="bold" fill="#000" textLength="39.6" lengthAdjust="spacingAndGlyphs">Peak1</text>
<text x="170.0" y="161.9" font-family='"Liberation Serif", serif' font-size="15.0" font-weight="bold" fill="#000" textLength="45.4" lengthAdjust="spacingAndGlyphs">Peak1’</text>
<text x="267.2" y="131.7" font-family='"Liberation Serif", serif' font-size="15.0" font-weight="bold" fill="#000" textLength="40.7" lengthAdjust="spacingAndGlyphs">Peak2</text>
<text x="145.5" y="296.0" font-family='"Liberation Serif", serif' font-size="15.0" font-weight="bold" fill="#000" textLength="39.4" lengthAdjust="spacingAndGlyphs">Peak1</text>
<text x="252.7" y="241.7" font-family='"Liberation Serif", serif' font-size="15.0" font-weight="bold" fill="#000" textLength="40.4" lengthAdjust="spacingAndGlyphs">Peak2</text>
<text x="142.2" y="422.7" font-family='"Liberation Serif", serif' font-size="15.0" font-weight="bold" fill="#000" textLength="40.2" lengthAdjust="spacingAndGlyphs">Peak1</text>
<text x="271.5" y="392.0" font-family='"Liberation Serif", serif' font-size="15.0" font-weight="bold" fill="#000" textLength="41.4" lengthAdjust="spacingAndGlyphs">Peak2</text>
<text x="142.2" y="554.0" font-family='"Liberation Serif", serif' font-size="15.0" font-weight="bold" fill="#000" textLength="40.2" lengthAdjust="spacingAndGlyphs">Peak1</text>
<text x="242.7" y="557.2" font-family='"Liberation Serif", serif' font-size="15.0" font-weight="bold" fill="#000" textLength="40.9" lengthAdjust="spacingAndGlyphs">Peak2</text>
<text x="148.0" y="711.4" font-family='"Liberation Serif", serif' font-size="15.0" font-weight="bold" fill="#000" textLength="40.4" lengthAdjust="spacingAndGlyphs">Peak1</text>
<text x="248.5" y="717.9" font-family='"Liberation Serif", serif' font-size="15.0" font-weight="bold" fill="#000" textLength="40.2" lengthAdjust="spacingAndGlyphs">Peak2</text>
<text x="502.3" y="131.6" font-family='"Liberation Serif", serif' font-size="15.0" font-weight="bold" fill="#000" textLength="39.7" lengthAdjust="spacingAndGlyphs">Peak1</text>
<text x="526.0" y="165.2" font-family='"Liberation Serif", serif' font-size="15.0" font-weight="bold" fill="#000" textLength="46.1" lengthAdjust="spacingAndGlyphs">Peak1’</text>
<text x="502.7" y="296.2" font-family='"Liberation Serif", serif' font-size="15.0" font-weight="bold" fill="#000" textLength="39.6" lengthAdjust="spacingAndGlyphs">Peak1</text>
<text x="52.5" y="878.5" font-family='"Liberation Sans", sans-serif' font-size="25.6" font-weight="bold" fill="#000" textLength="65.5" lengthAdjust="spacingAndGlyphs">40nm</text>
<text x="471.1" y="436.5" font-family='"Liberation Sans", sans-serif' font-size="25.6" font-weight="bold" fill="#000" textLength="65.5" lengthAdjust="spacingAndGlyphs">40nm</text>
<g transform="translate(28.8,839.4) rotate(-90)"><text x="0.0" y="0.0" font-family='"Liberation Sans", sans-serif' font-size="25.6" font-weight="bold" fill="#000" textLength="60.6" lengthAdjust="spacingAndGlyphs">40pN</text></g>
<g transform="translate(447.7,398) rotate(-90)"><text x="0.0" y="0.0" font-family='"Liberation Sans", sans-serif' font-size="25.6" font-weight="bold" fill="#000" textLength="60.4" lengthAdjust="spacingAndGlyphs">40pN</text></g>
</svg>
</body></html>
